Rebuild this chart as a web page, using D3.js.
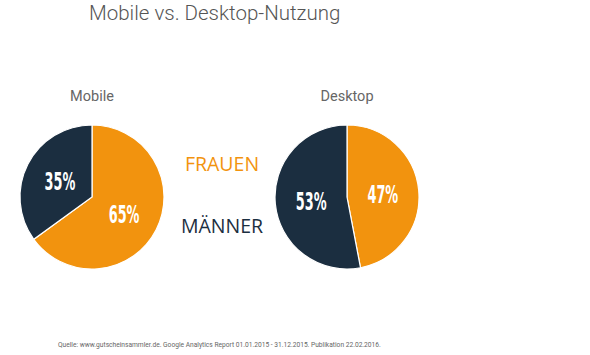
<!DOCTYPE html>
<html><head><meta charset="utf-8">
<script src="https://cdn.jsdelivr.net/npm/d3@7"></script>
<style>body{margin:0;background:#fff}</style>
</head><body>
<script>
const charts = ["Mobile", "Desktop"];
const segments = ["Frauen", "Männer"];
const mobileValues = [65, 35];
const desktopValues = [47, 53];
const legendLabels = ["FRAUEN", "MÄNNER"];
const title = "Mobile vs. Desktop-Nutzung";
const source = "Quelle: www.gutscheinsammler.de. Google Analytics Report 01.01.2015 - 31.12.2015. Publikation 22.02.2016.";

const W = 590, H = 355;
const colors = d3.scaleOrdinal().domain(segments).range(["#f2930e", "#1b2e40"]);
const svg = d3.select("body").append("svg").attr("width", W).attr("height", H);

svg.append("text").attr("x", 89).attr("y", 19.5).text(title)
  .attr("font-family", "Roboto").attr("font-weight", 300).attr("font-size", 20.5).attr("fill", "#555");

const pie = d3.pie().sort(null).value(d => d.v);
const R = 72;
const arc = d3.arc().innerRadius(0).outerRadius(R);
const centers = [[92, 197], [347, 197]];
const lab = d3.arc().innerRadius(R*0.5).outerRadius(R*0.5);
[mobileValues, desktopValues].forEach((vals, i) => {
  const g = svg.append("g").attr("transform", `translate(${centers[i][0]},${centers[i][1]})`);
  const data = pie(vals.map((v, j) => ({v, k: segments[j]})));
  g.selectAll("path").data(data).join("path")
    .attr("d", arc).attr("fill", d => colors(d.data.k))
    .attr("stroke", "#fff").attr("stroke-width", 1.2);
  g.selectAll("text.v").data(data).join("text").attr("class", "v")
    .attr("transform", d => { const c = lab.centroid(d); return `translate(${c[0]},${c[1]}) scale(0.56,1)`; })
    .attr("text-anchor", "middle").attr("dy", "0.36em")
    .attr("font-family", "DejaVu Sans Condensed, DejaVu Sans").attr("font-weight", "bold")
    .attr("font-size", 25.5).attr("fill", "#fff").text(d => d.data.v + "%");
  svg.append("text").attr("x", centers[i][0]).attr("y", 101).attr("text-anchor", "middle")
    .attr("font-family", "Roboto").attr("font-size", 14.5).attr("fill", "#666").text(charts[i]);
});

legendLabels.forEach((t, j) => {
  svg.append("text").attr("x", 222).attr("y", [171, 233][j]).attr("text-anchor", "middle")
    .attr("font-family", "Open Sans").attr("font-size", 19.5).attr("fill", colors(segments[j])).text(t);
});

svg.append("text").attr("x", 58).attr("y", 347).text(source)
  .attr("font-family", "Roboto").attr("font-size", 6.65).attr("fill", "#666");
</script>
</body></html>
